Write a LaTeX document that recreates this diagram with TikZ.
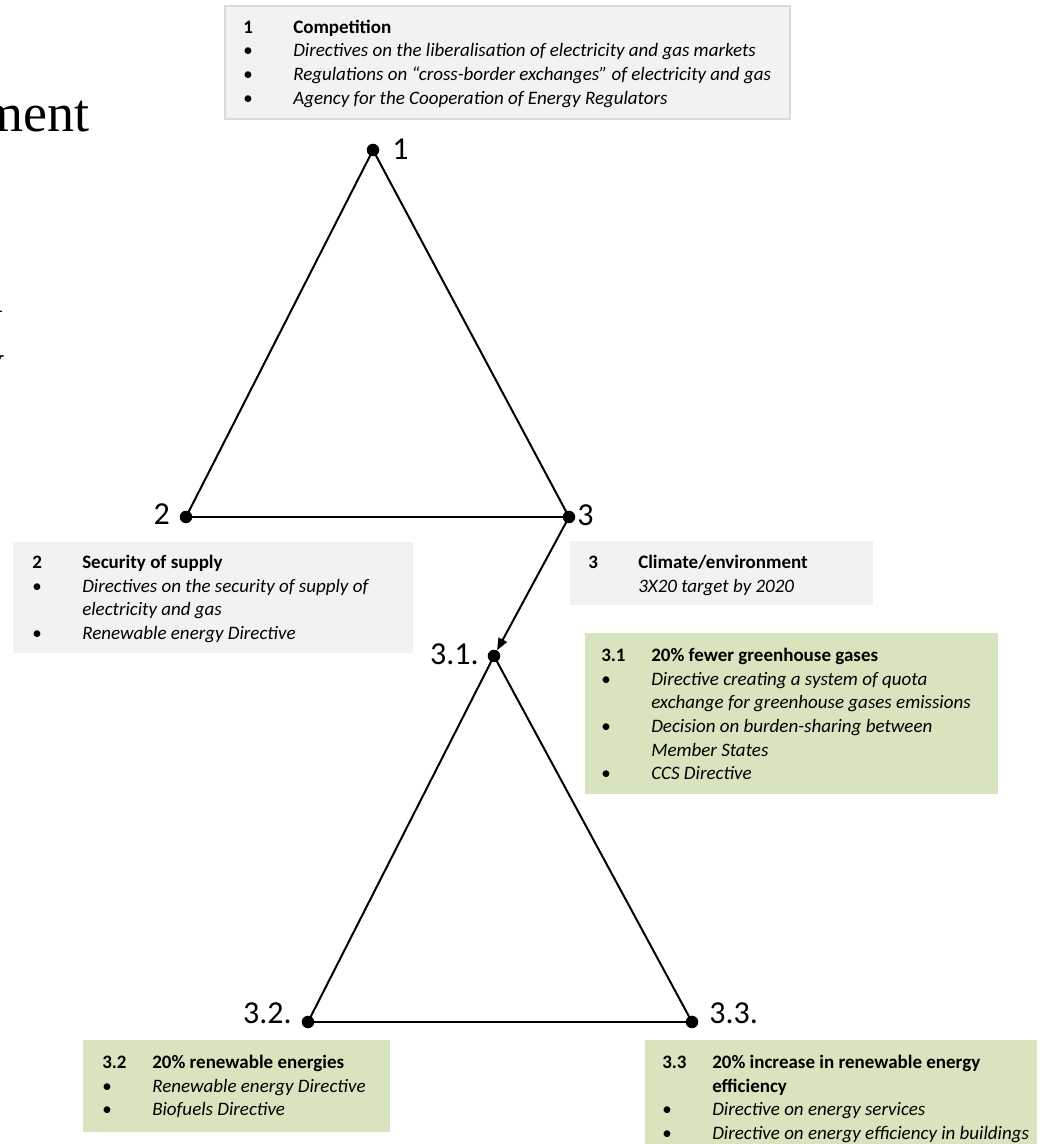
\documentclass[tikz,border=0pt]{standalone}
\usepackage{fontspec}
\setmainfont{Carlito}
\newfontfamily\serifcut{Liberation Serif}
\usetikzlibrary{arrows.meta,fit}
\definecolor{boxgrey}{HTML}{F2F2F2}
\definecolor{boxline}{HTML}{D9D9D9}
\definecolor{boxgreen}{HTML}{D7E4BD}
\newcommand\col[1]{\makebox[37.5pt][l]{#1}}
\newcommand\ind{\hspace*{37.5pt}}
\newcommand\first{\rule{0pt}{12pt}}
\begin{document}
\begin{tikzpicture}[x=0.75pt,y=-0.75pt,
  dot/.style={circle,fill=black,inner sep=0pt,minimum size=9.4pt},
  vlabel/.style={inner sep=0pt,font=\fontsize{24}{24}\selectfont},
  edge/.style={line width=1.5pt},
  baseedge/.style={line width=2pt},
  greybox/.style={fill=boxgrey,inner sep=0pt},
  greenbox/.style={fill=boxgreen,inner sep=0pt},
  txt/.style={inner sep=0pt,anchor=north west,align=left,font=\fontsize{14.25}{17.8}\selectfont},
  cutfrag/.style={inner sep=0pt,font=\serifcut\fontsize{40.5}{40.5}\selectfont}]
\useasboundingbox (0,0) rectangle (1039,1144);
\clip (0,0) rectangle (1039,1144);

% cut-off fragments of page text
\node[cutfrag,anchor=base east] (m1) at (90,132) {ment};
\node[cutfrag,anchor=base east] (m2) at (4,313) {l};
\node[cutfrag,anchor=base east] (m3) at (5,380) {y};

% boxes
\node[greybox,draw=boxline,line width=1.2pt,fit={(225,6) (790,119)}] (b1) {};
\node[greybox,fit={(13,542) (413,653)}] (b2) {};
\node[greybox,fit={(570,541) (873,605)}] (b3) {};
\node[greenbox,fit={(585,633) (998,794)}] (b31) {};
\node[greenbox,fit={(83,1040) (390,1132)}] (b32) {};
\node[greenbox,fit={(645,1040) (1037,1160)}] (b33) {};

% box texts
\node[txt] (t1) at (243,17) {\first\col{\textbf{1}}\textbf{Competition}\\
\col{•}\textit{Directives on the liberalisation of electricity and gas markets}\\
\col{•}\textit{Regulations on “cross-border exchanges” of electricity and gas}\\
\col{•}\textit{Agency for the Cooperation of Energy Regulators}};

\node[txt] (t2) at (32,552) {\first\col{\textbf{2}}\textbf{Security of supply}\\
\col{•}\textit{Directives on the security of supply of}\\
\ind\textit{electricity and gas}\\
\col{•}\textit{Renewable energy Directive}};

\node[txt] (t3) at (588,552) {\first\col{\textbf{3}}\textbf{Climate/environment}\\
\ind\textit{3X20 target by 2020}};

\node[txt] (t31) at (601,645) {\first\col{\textbf{3.1}}\textbf{20\% fewer greenhouse gases}\\
\col{•}\textit{Directive creating a system of quota}\\
\ind\textit{exchange for greenhouse gases emissions}\\
\col{•}\textit{Decision on burden-sharing between}\\
\ind\textit{Member States}\\
\col{•}\textit{CCS Directive}};

\node[txt] (t32) at (102,1052) {\first\col{\textbf{3.2}}\textbf{20\% renewable energies}\\
\col{•}\textit{Renewable energy Directive}\\
\col{•}\textit{Biofuels Directive}};

\node[txt] (t33) at (662,1052) {\first\col{\textbf{3.3}}\textbf{20\% increase in renewable energy}\\
\ind\textbf{efficiency}\\
\col{•}\textit{Directive on energy services}\\
\col{•}\textit{Directive on energy efficiency in buildings}};

% vertices
\node[dot] (v1) at (373,150) {};
\node[dot] (v2) at (186,517) {};
\node[dot] (v3) at (569,517) {};
\node[dot] (v31) at (494,656) {};
\node[dot] (v32) at (308,1022) {};
\node[dot] (v33) at (692,1022) {};

% edges
\draw[edge] (v1.center) -- (v2.center);
\draw[edge] (v1.center) -- (v3.center);
\draw[baseedge] (v2.center) -- (v3.center);
\draw[edge,-{Triangle[length=9pt,width=7pt]}] (v3.center) -- (v31);
\draw[edge] (v31.center) -- (v32.center);
\draw[edge] (v31.center) -- (v33.center);
\draw[baseedge] (v32.center) -- (v33.center);

% vertex labels
\node[vlabel,anchor=base west] (l1) at (392,160) {1};
\node[vlabel,anchor=base east] (l2) at (170,524) {2};
\node[vlabel,anchor=base west] (l3) at (577,525) {3};
\node[vlabel,anchor=base east] (l31) at (479,664) {3.1.};
\node[vlabel,anchor=base east] (l32) at (292,1023) {3.2.};
\node[vlabel,anchor=base west] (l33) at (709,1023) {3.3.};
\end{tikzpicture}
\end{document}
